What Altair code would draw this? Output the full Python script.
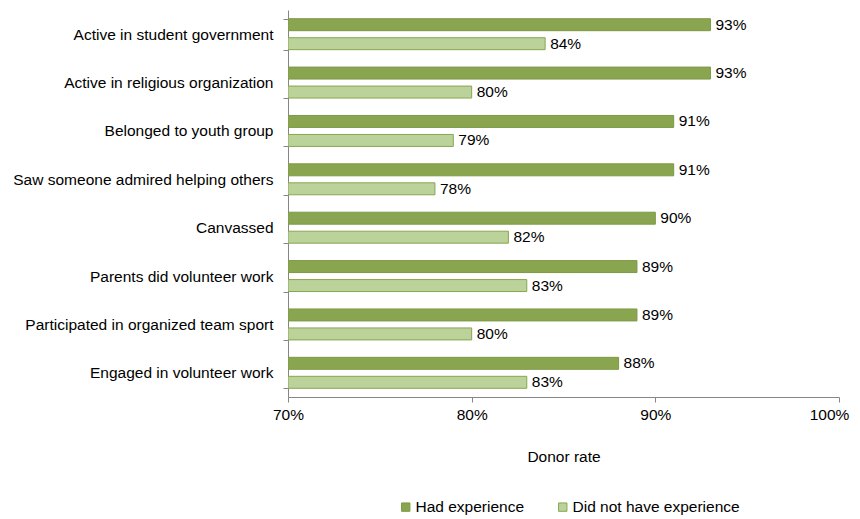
import altair as alt
import pandas as pd

categories = [
    "Active in student government",
    "Active in religious organization",
    "Belonged to youth group",
    "Saw someone admired helping others",
    "Canvassed",
    "Parents did volunteer work",
    "Participated in organized team sport",
    "Engaged in volunteer work",
]
series = ["Had experience", "Did not have experience"]
had = [0.93, 0.93, 0.91, 0.91, 0.90, 0.89, 0.89, 0.88]
had_not = [0.84, 0.80, 0.79, 0.78, 0.82, 0.83, 0.80, 0.83]
x_ticks = [0.7, 0.8, 0.9, 1.0]

rows = []
for c, a, b in zip(categories, had, had_not):
    rows.append({"category": c, "series": series[0], "value": a})
    rows.append({"category": c, "series": series[1], "value": b})
df = pd.DataFrame(rows)

FONT = "Liberation Sans"
FS = 15.5

y_enc = alt.Y("category:N", sort=categories, title=None,
              scale=alt.Scale(paddingInner=0.36, paddingOuter=0.18),
              axis=alt.Axis(tickBand="extent", labelFontSize=FS, labelFont=FONT,
                            labelColor="#000000", labelPadding=10, domainColor="#868686",
                            tickColor="#868686", tickSize=5, labelLimit=300))
yoff = alt.YOffset("series:N", sort=series, scale=alt.Scale(paddingInner=0.37, paddingOuter=0))

xscale = alt.Scale(domain=[0.7, 1.0], zero=False, nice=False)

bars = alt.Chart(df).mark_bar(strokeWidth=1, clip=True).encode(
    x=alt.X("value:Q", scale=xscale, title="Donor rate",
            axis=alt.Axis(values=x_ticks, format=".0%", grid=False, labelFontSize=FS,
                          labelFont=FONT, labelColor="#000000", labelPadding=5,
                          labelFlush=False,
                          labelOffset={"condition": {"test": "datum.value >= 0.999", "value": -10},
                                       "value": 0},
                          domainColor="#868686", tickColor="#868686", tickSize=5,
                          titleFont=FONT, titleFontSize=FS, titleFontWeight="normal",
                          titleColor="#000000", titlePadding=27)),
    x2=alt.datum(0.7),
    y=y_enc,
    yOffset=yoff,
    fill=alt.Fill("series:N", sort=series,
                  scale=alt.Scale(domain=series, range=["#8AA550", "#BBD29B"]),
                  legend=alt.Legend(title=None, orient="none", direction="horizontal",
                                    legendX=110, legendY=489, symbolType="square",
                                    symbolSize=70, symbolStrokeWidth=1,
                                    labelFont=FONT, labelFontSize=FS, labelColor="#000000",
                                    labelOffset=2, columnPadding=30, labelLimit=300)),
    stroke=alt.Stroke("series:N", sort=series,
                      scale=alt.Scale(domain=series, range=["#7C9A44", "#8AA550"]),
                      legend=None),
)

labels = alt.Chart(df).mark_text(align="left", baseline="middle", dx=5,
                                  font=FONT, fontSize=FS, color="#000000").encode(
    x=alt.X("value:Q", scale=xscale),
    y=alt.Y("category:N", sort=categories),
    yOffset=alt.YOffset("series:N", sort=series),
    text=alt.Text("value:Q", format=".0%"),
)

chart = alt.layer(bars, labels).properties(
    width=551, height=387,
    autosize=alt.AutoSizeParams(type="none"),
    padding={"left": 280, "top": 2, "right": 13, "bottom": 121},
).configure_view(stroke=None)

chart.save("out.html", embed_options={"renderer": "svg", "actions": False})
